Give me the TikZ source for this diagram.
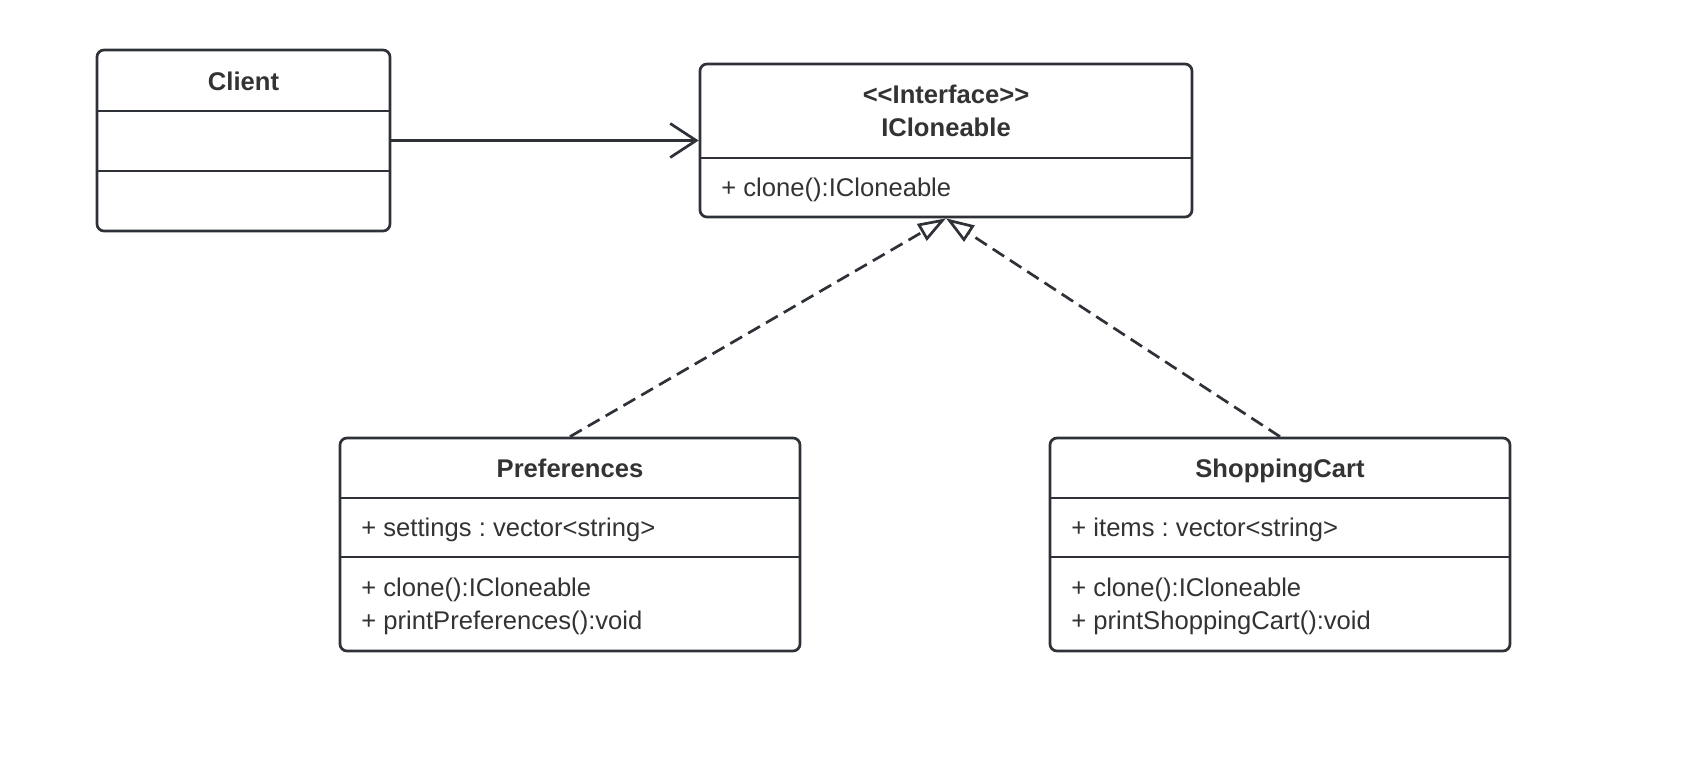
\documentclass[tikz,border=0pt]{standalone}
\usepackage{fontspec}
\setmainfont{Liberation Sans}
\frenchspacing
\usetikzlibrary{arrows.meta}
\definecolor{clrLine} {HTML}{2E3238}
\definecolor{clrText} {HTML}{333333}
\tikzset{
  cls/.style = {
    rectangle, rounded corners=3.5pt,
    draw=clrLine, line width=1.35pt, fill=white,
    inner sep=0pt,
  },
  sep/.style  = {draw=clrLine, line width=1.35pt},
  ttl/.style  = {font=\bfseries\fontsize{12.8}{16.5}\selectfont,
                 text=clrText, align=center},
  % single-line class name: same box for every name
  hdr/.style  = {ttl, text height=9.3pt, text depth=0pt},
  mbr/.style  = {font=\fontsize{12.8}{16.5}\selectfont,
                 text=clrText, align=left, anchor=west, inner sep=0pt},
  assoc/.style   = {-{Straight Barb[length=13pt, width=17pt]},
                    line width=1.35pt, color=clrLine},
  realize/.style = {-{Triangle[open, length=14pt, width=9.5pt]},
                    line width=1.35pt, color=clrLine,
                    dash pattern=on 6.8pt off 3.5pt},
}

\begin{document}
\begin{tikzpicture}[x=0.5pt, y=-0.5pt]

\useasboundingbox (0,0) rectangle (1694,764);

% ══════════════════════════════════════════════════════════════════════════
%  Classes (outer frames)
% ══════════════════════════════════════════════════════════════════════════

\node[cls, minimum width=146.5pt, minimum height=90.5pt]  (client) at (243.5, 140.5) {};
\node[cls, minimum width=246pt,   minimum height=76.5pt]  (iface)  at (946,   140.5) {};
\node[cls, minimum width=230pt,   minimum height=106.5pt] (pref)   at (570,   544.5) {};
\node[cls, minimum width=230pt,   minimum height=106.5pt] (cart)   at (1280,  544.5) {};

% ── compartment separators ──────────────────────────────────────────────
\draw[sep] (client.west |- 0,111) -- (client.east |- 0,111);
\draw[sep] (client.west |- 0,171) -- (client.east |- 0,171);
\draw[sep] (iface.west  |- 0,158) -- (iface.east  |- 0,158);
\draw[sep] (pref.west   |- 0,498) -- (pref.east   |- 0,498);
\draw[sep] (pref.west   |- 0,557) -- (pref.east   |- 0,557);
\draw[sep] (cart.west   |- 0,498) -- (cart.east   |- 0,498);
\draw[sep] (cart.west   |- 0,557) -- (cart.east   |- 0,557);

% ══════════════════════════════════════════════════════════════════════════
%  Class texts
% ══════════════════════════════════════════════════════════════════════════

\node[hdr] (clientT) at (243.5, 81) {Client};

\node[ttl] (ifaceT) at (946, 111) {{<}{<}Interface{>}{>}\\ICloneable};
\node[mbr] (ifaceM) at (721, 190) {+ clone():ICloneable};

\node[hdr] (prefT) at (570, 468) {Preferences};
\node[mbr] (prefA) at (361, 530) {+ settings : vector{<}string{>}};
\node[mbr] (prefM) at (361, 606) {+ clone():ICloneable\\+ printPreferences():void};

\node[hdr] (cartT) at (1280, 468) {ShoppingCart};
\node[mbr] (cartA) at (1071, 530) {+ items : vector{<}string{>}};
\node[mbr] (cartM) at (1071, 606) {+ clone():ICloneable\\+ printShoppingCart():void};

% ══════════════════════════════════════════════════════════════════════════
%  Relations
% ══════════════════════════════════════════════════════════════════════════

\draw[assoc]   (client.east) -- (iface.west);
\draw[realize] (pref.north)  -- (iface.south);
\draw[realize] (cart.north)  -- (iface.south);

\end{tikzpicture}
\end{document}
